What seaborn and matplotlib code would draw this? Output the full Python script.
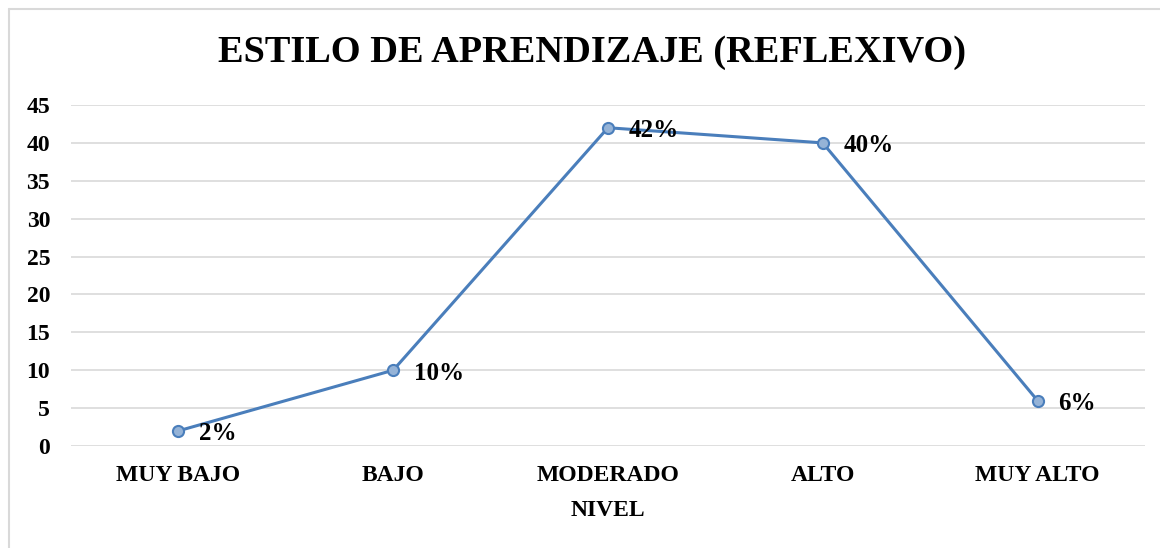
import matplotlib
matplotlib.use("Agg")
import matplotlib.pyplot as plt
from matplotlib.lines import Line2D
import pandas as pd
import seaborn as sns

niveles = ["MUY BAJO", "BAJO", "MODERADO", "ALTO", "MUY ALTO"]
valores = [2, 10, 42, 40, 6]
etiquetas = ["2%", "10%", "42%", "40%", "6%"]

sns.set_theme(style="white")
plt.rcParams["font.family"] = ["Liberation Serif", "DejaVu Serif"]
plt.rcParams["font.weight"] = "bold"
plt.rcParams["text.color"] = "black"

df = pd.DataFrame({"nivel": niveles, "valor": valores})

fig = plt.figure(figsize=(11.6, 5.48), dpi=100)
ax = fig.add_axes([0.0612, 0.1861, 0.9258, 0.6223])

sns.lineplot(
    data=df, x="nivel", y="valor", ax=ax,
    color="#4a7ebb", linewidth=2.2, sort=False,
    marker="o", markersize=8,
    markerfacecolor="#95b3d7", markeredgecolor="#4a7ebb", markeredgewidth=1.5,
)

for i, (v, t) in enumerate(zip(valores, etiquetas)):
    ax.annotate(t, (i, v), xytext=(15, -2), textcoords="offset points",
                ha="left", va="center", fontsize=18, fontweight="bold",
                color="black")

ax.set_xlim(-0.5, 4.5)
ax.set_ylim(0, 45)
ax.set_yticks(range(0, 46, 5))
ax.grid(axis="y", color="#d9d9d9", linewidth=1.2)
ax.set_axisbelow(True)
for s in ax.spines.values():
    s.set_visible(False)
ax.tick_params(axis="both", length=0, labelsize=17, colors="black")
ax.tick_params(axis="x", pad=14)
ax.tick_params(axis="y", pad=15)
for lbl in ax.get_xticklabels() + ax.get_yticklabels():
    lbl.set_fontweight("bold")
ax.set_xlabel("NIVEL", fontsize=17, fontweight="bold", labelpad=10, color="black")
ax.set_ylabel("")

fig.text(0.51, 0.905, "ESTILO DE APRENDIZAJE (REFLEXIVO)", ha="center", va="center",
         fontsize=27.6, fontweight="bold", color="black")

# chart border (top and left edges visible)
fig.add_artist(Line2D([0.0078, 1.0], [0.9836, 0.9836], color="#d9d9d9", linewidth=1.5,
                      transform=fig.transFigure))
fig.add_artist(Line2D([0.0078, 0.0078], [0.0, 0.9836], color="#d9d9d9", linewidth=1.5,
                      transform=fig.transFigure))

fig.savefig("out.png", dpi=100)
